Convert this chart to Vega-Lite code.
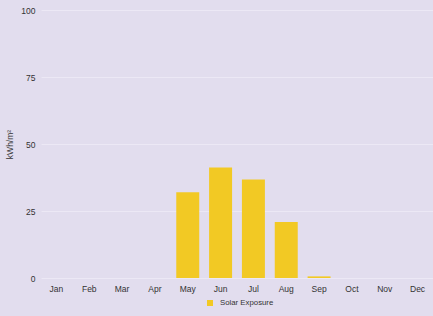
{
  "$schema": "https://vega.github.io/schema/vega-lite/v6.json",
  "width": 392,
  "height": 268,
  "autosize": {"type": "none"},
  "padding": {"left": 41, "top": 10, "right": 0, "bottom": 38},
  "background": "#e2ddee",
  "config": {
    "view": {"stroke": null},
    "font": "Liberation Sans",
    "axis": {"labelFont": "Liberation Sans", "titleFont": "Liberation Sans"},
    "legend": {"labelFont": "Liberation Sans"}
  },
  "data": {
    "values": [
      {"month": "Jan", "value": 0, "series": "Solar Exposure"},
      {"month": "Feb", "value": 0, "series": "Solar Exposure"},
      {"month": "Mar", "value": 0, "series": "Solar Exposure"},
      {"month": "Apr", "value": 0, "series": "Solar Exposure"},
      {"month": "May", "value": 32, "series": "Solar Exposure"},
      {"month": "Jun", "value": 41.2, "series": "Solar Exposure"},
      {"month": "Jul", "value": 36.8, "series": "Solar Exposure"},
      {"month": "Aug", "value": 20.9, "series": "Solar Exposure"},
      {"month": "Sep", "value": 0.6, "series": "Solar Exposure"},
      {"month": "Oct", "value": 0, "series": "Solar Exposure"},
      {"month": "Nov", "value": 0, "series": "Solar Exposure"},
      {"month": "Dec", "value": 0, "series": "Solar Exposure"}
    ]
  },
  "mark": {"type": "bar"},
  "encoding": {
    "x": {
      "field": "month",
      "type": "ordinal",
      "sort": null,
      "scale": {"paddingInner": 0.3, "paddingOuter": 0.12},
      "axis": {
        "title": null,
        "labelAngle": 0,
        "domain": false,
        "ticks": false,
        "labelFontSize": 8.5,
        "labelColor": "#333333",
        "labelPadding": 6
      }
    },
    "y": {
      "field": "value",
      "type": "quantitative",
      "scale": {"domain": [0, 100], "nice": false},
      "axis": {
        "title": "kWh/m²",
        "titleFontSize": 8.5,
        "titleFontWeight": "normal",
        "titleColor": "#333333",
        "titlePadding": 6,
        "values": [0, 25, 50, 75, 100],
        "domain": false,
        "ticks": false,
        "labelFontSize": 8.5,
        "labelColor": "#333333",
        "labelPadding": 6,
        "gridColor": "#efebf6",
        "gridOpacity": 0.8
      }
    },
    "color": {
      "field": "series",
      "type": "nominal",
      "scale": {"range": ["#f2c924"]},
      "legend": {
        "title": null,
        "orient": "none",
        "legendX": 165,
        "legendY": 289,
        "padding": 0,
        "symbolType": "square",
        "symbolSize": 36,
        "labelFontSize": 7.8,
        "labelColor": "#333333",
        "labelOffset": 6
      }
    }
  }
}
